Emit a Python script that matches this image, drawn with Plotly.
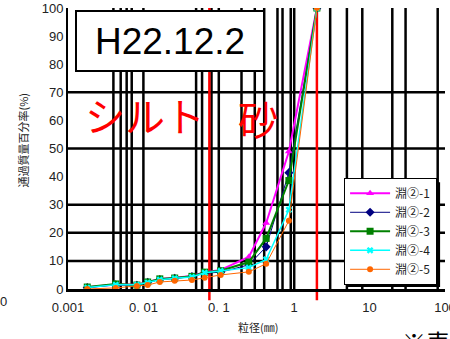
import plotly.graph_objects as go

# Grain size (mm) and percent passing for each sample
sizes = [0.0018, 0.0043, 0.0082, 0.0114, 0.0165, 0.026, 0.044, 0.065, 0.106, 0.25, 0.425, 0.85, 2.0]
pass_1 = [0.6, 1.6, 1.5, 2.6, 3.6, 4.0, 4.6, 6.0, 6.8, 11.4, 23.5, 48.9, 100]
pass_2 = [0.5, 1.5, 1.3, 2.4, 3.4, 3.8, 4.4, 5.6, 6.0, 8.6, 15.0, 41.4, 100]
pass_3 = [0.7, 1.8, 1.4, 2.5, 3.6, 3.9, 4.5, 6.0, 6.5, 9.6, 18.0, 38.6, 100]
pass_4 = [0.5, 1.5, 1.5, 2.3, 3.3, 3.8, 4.3, 5.8, 6.4, 7.6, 10.5, 28.2, 100]
pass_5 = [0.0, 0.4, 1.1, 1.4, 2.5, 2.9, 3.2, 4.0, 5.0, 6.1, 9.0, 24.3, 100]
names = ["淵②-1", "淵②-2", "淵②-3", "淵②-4", "淵②-5"]

x_ticks = [0.001, 0.01, 0.1, 1, 10, 100]
x_tick_text = ["0.001", "0. 01", "0. 1", "1", "10", "100"]
y_ticks = [0, 10, 20, 30, 40, 50, 60, 70, 80, 90, 100]
x_grid = [0.004, 0.005, 0.006, 0.007, 0.01, 0.05, 0.06, 0.08, 0.1,
          0.2, 0.3, 0.4, 0.6, 0.7, 0.9, 1, 3, 5, 8, 20, 30, 80]
y_grid = [10, 20, 30, 50, 70]
boundaries = [0.075, 2.0]  # silt / sand, sand / gravel

styles = [
    dict(color="#FF00FF", symbol="triangle-up", size=7, width=2),
    dict(color="#000080", symbol="diamond", size=7, width=1),
    dict(color="#008000", symbol="square", size=7, width=2),
    dict(color="#00FFFF", symbol="x", size=6, width=1.5),
    dict(color="#FF6600", symbol="circle", size=6, width=1),
]

fig = go.Figure()
for name, ys, st in zip(names, [pass_1, pass_2, pass_3, pass_4, pass_5], styles):
    fig.add_trace(go.Scatter(
        x=sizes, y=ys, name=name, mode="lines+markers",
        line=dict(color=st["color"], width=st["width"]),
        marker=dict(symbol=st["symbol"], size=st["size"], color=st["color"],
                    line=dict(width=0)),
    ))

shapes = []
for g in y_grid:
    shapes.append(dict(type="line", xref="x domain", yref="y", x0=0, x1=1, y0=g, y1=g,
                       line=dict(color="black", width=2.5), layer="below"))
for g in x_grid:
    shapes.append(dict(type="line", xref="x", yref="y domain", x0=g, x1=g, y0=0, y1=1,
                       line=dict(color="black", width=2.5), layer="below"))
for b in boundaries:
    shapes.append(dict(type="line", xref="x", yref="paper", x0=b, x1=b, y0=-0.04, y1=1,
                       line=dict(color="#FF0000", width=2.5), layer="between"))
# legend shadow
shapes.append(dict(type="rect", xref="paper", yref="paper", x0=0.74, x1=0.987,
                   y0=0.0075, y1=0.38, fillcolor="black", line=dict(width=0), layer="above"))


def note(text, x, y, size, color="#222", family="Noto Sans CJK JP", **kw):
    d = dict(text=text, xref="paper", yref="paper", x=x, y=y, showarrow=False,
             xanchor="center", yanchor="middle",
             font=dict(family=family, size=size, color=color))
    d.update(kw)
    return d


annotations = [
    # date label in a white framed box
    note("H22.12.2", 0.27, 0.882, 37, "black", "Liberation Sans, Arial",
         width=184, height=56, bgcolor="white", bordercolor="black", borderwidth=2,
         borderpad=1),
    note("シルト", 0.204, 0.619, 40, "#FF0000"),
    note("砂", 0.504, 0.609, 40, "#FF0000"),
    note("通過質量百分率(%)", -0.118, 0.53, 11, textangle=-90),
    note("粒径(㎜)", 0.504, -0.135, 11),
    note("0", -0.172, -0.046, 13, family="Liberation Sans"),
    note("※表", 0.88, -0.118, 24, "black", xanchor="left", yanchor="top"),
]

fig.update_layout(
    width=450, height=339,
    margin=dict(l=68, r=5, t=8, b=50, autoexpand=False),
    paper_bgcolor="white", plot_bgcolor="white",
    showlegend=True,
    legend=dict(x=0.979, y=0.015, xanchor="right", yanchor="bottom",
                bgcolor="white", bordercolor="black", borderwidth=1,
                font=dict(family="Noto Sans CJK JP", size=12, color="#222"),
                tracegroupgap=0, itemwidth=40),
    shapes=shapes, annotations=annotations,
    font=dict(family="Liberation Sans", color="#222"),
)
fig.update_xaxes(type="log", range=[-3, 2], tickvals=x_ticks, ticktext=x_tick_text,
                 showgrid=False, showline=True, linecolor="black", linewidth=3, ticks="",
                 tickfont=dict(size=13), zeroline=False, ticklabeloverflow="allow",
                 ticklabelstandoff=4, automargin=False)
fig.update_yaxes(range=[0, 100], tickvals=y_ticks, showgrid=False,
                 showline=True, linecolor="black", linewidth=2, ticks="",
                 tickfont=dict(size=13), zeroline=False, ticklabeloverflow="allow",
                 automargin=False)

fig.write_html("out.html")
